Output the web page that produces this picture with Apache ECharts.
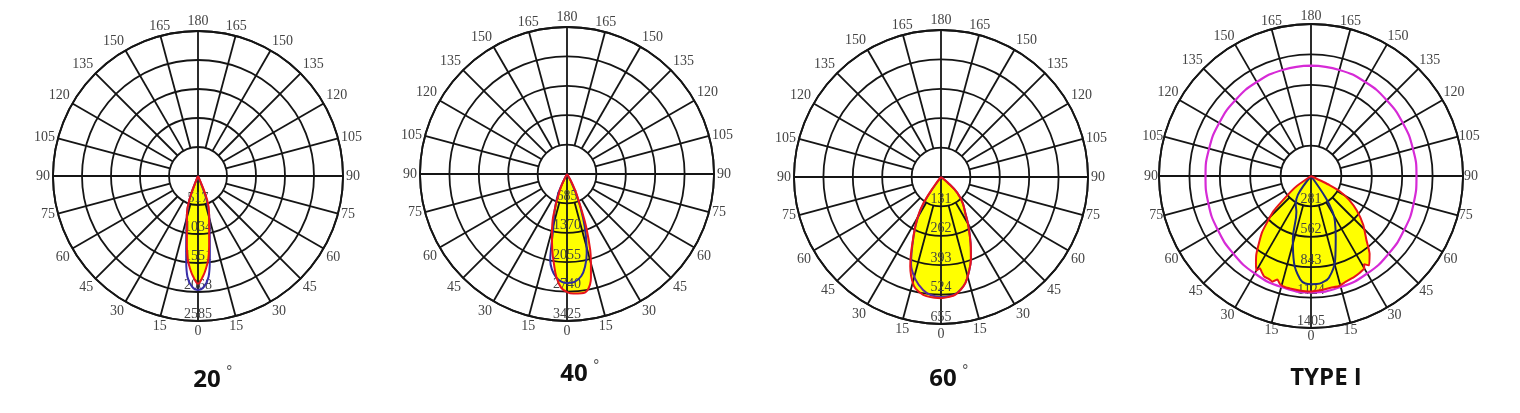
<!DOCTYPE html>
<html><head><meta charset="utf-8">
<script src="https://cdn.jsdelivr.net/npm/echarts@6/dist/echarts.min.js"></script>
<style>html,body{margin:0;padding:0;background:#fff}#c{width:1520px;height:413px}</style>
</head><body><div id="c"></div>
<script>
// ---- titles / tick labels ----
const chartTitles = ['20', '40', '60', 'TYPE I'];
const titleDegree = [true, true, true, false];
const ringLabels20 = [517, 1034, 1551, 2068, 2585];
const ringLabels40 = [685, 1370, 2055, 2740, 3425];
const ringLabels60 = [131, 262, 393, 524, 655];
const ringLabelsT1 = [281, 562, 843, 1124, 1405];
const angleTickLabels = [0, 15, 30, 45, 60, 75, 90, 105, 120, 135, 150, 165, 180];

// ---- curves: angle in degrees (negative = left of nadir, positive = right), value in cd ----
const red20Ang = [-24, -20, -16, -11, -9, -7, -5, -3, 0, 3, 5, 7, 9, 11, 16, 21, 24];
const red20Val = [0, 455, 720, 1041, 1270, 1500, 1650, 1780, 1920, 1780, 1650, 1500, 1270, 1041, 720, 458, 0];
const blue20Ang = [-24, -20, -16, -12, -9, -8, -6, -3, 0, 3, 6, 8, 9, 12, 16, 20, 24];
const blue20Val = [0, 450, 720, 1000, 1350, 1513, 1806, 1980, 2033, 1980, 1806, 1513, 1350, 1000, 720, 450, 0];

const red40Ang = [-28, -24, -18, -14, -11, -8, -6, -3, 0, 3, 7, 10, 13, 15, 17, 20, 22, 25, 27, 30, 33];
const red40Val = [0, 400, 1040, 1450, 1800, 2150, 2400, 2650, 2750, 2790, 2800, 2750, 2480, 2150, 1850, 1300, 900, 550, 400, 150, 0];
const blue40Ang = [-27, -24, -18, -14, -12, -11, -9, -6, -3, 0, 4, 8, 11, 14, 17, 20, 24, 28, 30];
const blue40Val = [0, 500, 950, 1340, 1800, 2050, 2250, 2420, 2510, 2540, 2520, 2400, 2200, 1900, 1500, 1100, 600, 200, 0];

const red60Ang = [-38, -37, -34, -30, -25, -19, -14, -10, -7, -3, 0, 4, 7, 10, 13, 16, 20, 23, 26, 30, 34, 40, 46, 50, 52];
const red60Val = [0, 50, 138, 210, 290, 421, 500, 525, 535, 539, 540, 535, 528, 510, 484, 445, 390, 340, 293, 240, 193, 150, 100, 40, 0];
const blue60Ang = [-37, -34, -30, -25, -19, -14, -9, -5, 0, 4, 7, 10, 13, 16, 20, 23, 26, 30, 34, 40, 46, 50, 52];
const blue60Val = [0, 130, 205, 288, 410, 470, 510, 528, 535, 532, 526, 508, 484, 446, 390, 340, 294, 242, 194, 150, 100, 40, 0];

const redT1Ang = [-58, -55, -52, -47, -41, -35, -32, -30, -29, -27, -25, -22, -20, -18, -16, -13, -10, -7, -3, 0, 3, 7, 10, 14, 18, 23, 27, 30, 31, 33, 37, 41, 47, 53, 58, 62, 64, 66];
const redT1Val = [0, 160, 245, 470, 690, 880, 960, 1010, 975, 1000, 1025, 1030, 1040, 1005, 1040, 1055, 1058, 1062, 1066, 1068, 1062, 1055, 1048, 1050, 1030, 1015, 1000, 985, 950, 985, 900, 780, 660, 530, 415, 300, 190, 0];
const blueT1Ang = [-40, -35, -28, -22, -16, -11, -6, -3, 0, 3, 6, 10, 16, 22, 28, 31, 34, 40];
const blueT1Val = [0, 210, 300, 360, 610, 820, 960, 995, 1000, 1000, 990, 955, 810, 610, 470, 390, 250, 0];
const magT1Ang = [-180, -165, -150, -135, -120, -105, -90, -75, -60, -45, -30, -15, 0, 15, 30, 45, 60, 75, 90, 105, 120, 135, 150, 165, 180];
const magT1Val = [1020, 1015, 1003, 990, 980, 975, 975, 982, 995, 1015, 1040, 1062, 1075, 1062, 1040, 1015, 995, 982, 975, 975, 980, 990, 1003, 1015, 1020];

// ---- layout ----
const panels = [
  {center: [198, 176], radius: 145, rings: ringLabels20, titleX: 208, titleY: 360, labelMargin: 3,
   red: [red20Ang, red20Val], blue: [blue20Ang, blue20Val], blueColor: '#3a2fa8'},
  {center: [567, 174], radius: 147, rings: ringLabels40, titleX: 575, titleY: 354, labelMargin: 3,
   red: [red40Ang, red40Val], blue: [blue40Ang, blue40Val], blueColor: '#2b2b9e'},
  {center: [941, 177], radius: 147, rings: ringLabels60, titleX: 944, titleY: 359, labelMargin: 3,
   red: [red60Ang, red60Val], blue: [blue60Ang, blue60Val], blueColor: '#5a2aa0'},
  {center: [1311, 176], radius: 152, rings: ringLabelsT1, titleX: 1321, titleY: 358, labelMargin: 1,
   red: [redT1Ang, redT1Val], blue: [blueT1Ang, blueT1Val], blueColor: '#1f2a7a',
   mag: [magT1Ang, magT1Val]}
];

const toPolar = a => ((360 - a) % 360 + 360) % 360;
const pts = (angs, vals) => angs.map((a, i) => [vals[i], toPolar(a)]);
const spokeAngles = [];
for (let a = 0; a < 360; a += 15) spokeAngles.push(a);

const GRID = '#151515';
const GW = 1.8;

const option = {
  animation: false,
  backgroundColor: '#fff',
  title: [], polar: [], angleAxis: [], radiusAxis: [], series: []
};

panels.forEach((p, i) => {
  const step = p.rings[0];
  const maxR = p.rings[p.rings.length - 1];
  option.title.push({
    left: p.titleX, top: p.titleY, textAlign: 'center',
    text: titleDegree[i] ? '{n|' + chartTitles[i] + '}{d|°}' : '{n|' + chartTitles[i] + '}',
    textStyle: {rich: {
      n: {fontFamily: 'Open Sans', fontWeight: 'bold', fontSize: 24, color: '#111', lineHeight: 30},
      d: {fontFamily: 'DejaVu Sans', fontWeight: 'normal', fontSize: 14, color: '#555', verticalAlign: 'top', padding: [0, 0, 0, 5], lineHeight: 18}
    }}
  });
  option.polar.push({center: p.center, radius: p.radius});
  option.angleAxis.push({
    polarIndex: i, type: 'value', min: 0, max: 360, interval: 15, startAngle: 270, clockwise: true, z: 10,
    axisLine: {lineStyle: {color: GRID, width: GW}},
    axisTick: {show: false}, splitLine: {show: false},
    axisLabel: {margin: p.labelMargin, color: '#444', fontFamily: 'Liberation Serif', fontSize: 14,
      formatter: v => {
        if (v >= 360) return '';
        const d = v > 180 ? 360 - v : v;
        return angleTickLabels.indexOf(d) >= 0 ? String(d) : '';
      }}
  });
  option.radiusAxis.push({
    polarIndex: i, type: 'value', min: 0, max: maxR, interval: step, z: 10,
    axisLine: {show: false}, axisTick: {show: false},
    splitLine: {lineStyle: {color: GRID, width: GW}},
    axisLabel: {margin: 0, align: 'center', verticalAlign: 'bottom', color: '#444',
      fontFamily: 'Liberation Serif', fontSize: 14,
      formatter: v => p.rings.indexOf(v) >= 0 ? String(v) : ''}
  });
  // yellow fill
  option.series.push({
    type: 'line', coordinateSystem: 'polar', polarIndex: i, z: 1,
    data: pts(p.red[0], p.red[1]), smooth: i === 3 ? 0.15 : 0.4, showSymbol: false, silent: true,
    lineStyle: {width: 0}, areaStyle: {color: '#ffff00', opacity: 1}
  });
  // spokes
  option.series.push({
    type: 'custom', coordinateSystem: 'polar', polarIndex: i, z: 8, silent: true,
    data: spokeAngles.map(a => [0, a]),
    renderItem: (params, api) => {
      const a = api.value(1);
      const inner = a % 90 === 0 ? 0 : step;
      const p0 = api.coord([inner, a]);
      const p1 = api.coord([maxR, a]);
      return {type: 'line', shape: {x1: p0[0], y1: p0[1], x2: p1[0], y2: p1[1]},
        style: {stroke: GRID, lineWidth: GW}};
    }
  });
  if (p.mag) {
    option.series.push({
      type: 'line', coordinateSystem: 'polar', polarIndex: i, z: 11,
      data: pts(p.mag[0], p.mag[1]), smooth: 0.5, showSymbol: false,
      lineStyle: {color: '#d62ad6', width: 2.2}
    });
  }
  option.series.push({
    type: 'line', coordinateSystem: 'polar', polarIndex: i, z: 12,
    data: pts(p.blue[0], p.blue[1]), smooth: 0.4, showSymbol: false,
    lineStyle: {color: p.blueColor, width: 2}
  });
  option.series.push({
    type: 'line', coordinateSystem: 'polar', polarIndex: i, z: 13,
    data: pts(p.red[0], p.red[1]), smooth: i === 3 ? 0.15 : 0.4, showSymbol: false,
    lineStyle: {color: '#e8141b', width: 2}
  });
});

const chart = echarts.init(document.getElementById('c'), null, {renderer: 'canvas'});
chart.setOption(option);
</script></body></html>
